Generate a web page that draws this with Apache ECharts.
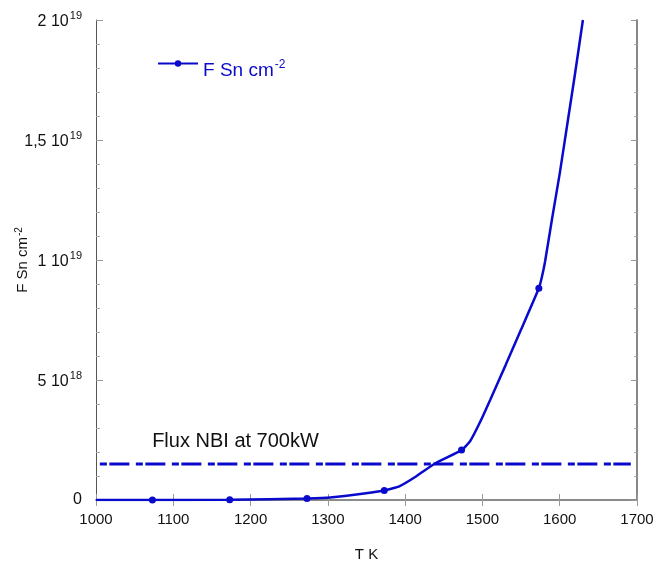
<!DOCTYPE html>
<html>
<head>
<meta charset="utf-8">
<title>F Sn flux vs T</title>
<script src="https://cdn.jsdelivr.net/npm/echarts@6/dist/echarts.min.js"></script>
<style>
  html, body { margin: 0; padding: 0; background: #fff; }
  #chart { width: 654px; height: 561px; }
</style>
</head>
<body>
<div id="chart"></div>
<script>
// temperature (K) and flux (in units of 1e18 cm^-2)
const curveT = [1000, 1073, 1173, 1273, 1303, 1373, 1393, 1415, 1439, 1473, 1484, 1497, 1510, 1530, 1550, 1573, 1577, 1581, 1590, 1600, 1610, 1620, 1630]
const curveF = [0, 0, 0.01, 0.06, 0.1, 0.4, 0.58, 1.0, 1.53, 2.08, 2.45, 3.25, 4.17, 5.62, 7.1, 8.82, 9.3, 9.93, 11.7, 13.6, 15.7, 17.8, 20]
// temperatures that carry a dot
const markT = [1073, 1173, 1273, 1373, 1473, 1573]
// NBI flux level
const nbiT = [1005, 1692]
const nbiF = [1.5, 1.5]
// y tick labels: mantissa and exponent
const yTickMant = ['0', '5', '1', '1,5', '2']
const yTickExp = ['', '18', '19', '19', '19']

const blue = '#0a0acc'
const ink = '#111'
const font = 'Liberation Sans, Arial, sans-serif'

const chart = echarts.init(document.getElementById('chart'))

// base text + superscript
const sup = (size, supSize, color, raise, drop) => ({
  b: { fontSize: size, fontFamily: font, color: color, verticalAlign: 'bottom', padding: [drop || 0, 0, 0, 0] },
  s: { fontSize: supSize, fontFamily: font, color: color, verticalAlign: 'bottom', padding: [0, 0, raise, 1] }
})

chart.setOption({
  animation: false,
  grid: { left: 96, right: 17, top: 20, bottom: 61, outerBoundsMode: 'none', containLabel: false },
  legend: {
    left: 157,
    top: 59,
    padding: 0,
    itemWidth: 40,
    itemHeight: 8,
    data: ['flux'],
    formatter: () => '{b|F Sn cm}{s|-2}',
    textStyle: { rich: sup(19, 12, blue, 9, 14) }
  },
  xAxis: [{
    type: 'value',
    min: 1000,
    max: 1700,
    interval: 100,
    name: 'T K',
    nameLocation: 'middle',
    nameGap: 47,
    nameTextStyle: { fontSize: 15, fontFamily: font, color: ink },
    axisLine: { lineStyle: { color: '#777', width: 1.5 } },
    axisTick: { inside: true, length: 6, lineStyle: { color: '#999' } },
    axisLabel: { margin: 12, fontSize: 15, fontFamily: font, color: ink, formatter: (v) => String(v) },
    splitLine: { show: false }
  }, {
    type: 'value',
    position: 'top',
    min: 1000,
    max: 1700,
    interval: 100,
    axisLine: { show: true, lineStyle: { color: '#888', width: 1.5 } },
    axisTick: { inside: true, length: 6, lineStyle: { color: '#999' } },
    axisLabel: { show: false },
    splitLine: { show: false }
  }],
  yAxis: [{
    type: 'value',
    min: 0,
    max: 20,
    interval: 5,
    name: '{b|F Sn cm}{s|-2}',
    nameLocation: 'middle',
    nameRotate: 90,
    nameGap: 66,
    nameMoveOverlap: false,
    nameTextStyle: { rich: sup(15, 10, ink, 6) },
    axisLine: { show: true, lineStyle: { color: '#555', width: 1 } },
    axisTick: { inside: true, length: 7, lineStyle: { color: '#999' } },
    minorTick: { show: true, splitNumber: 5, length: 4, lineStyle: { color: '#aaa' } },
    axisLabel: {
      margin: 14,
      formatter: (v) => {
        const i = Math.round(v / 5)
        const m = yTickMant[i]
        const e = yTickExp[i]
        return e ? '{b|' + m + ' 10}{s|' + e + '}' : '{b|' + m + '}'
      },
      rich: sup(16, 11, ink, 8)
    },
    splitLine: { show: false }
  }, {
    type: 'value',
    position: 'right',
    min: 0,
    max: 20,
    interval: 5,
    axisLine: { show: true, lineStyle: { color: '#888', width: 2 } },
    axisTick: { inside: true, length: 6, lineStyle: { color: '#999' } },
    minorTick: { show: true, splitNumber: 5, length: 3, lineStyle: { color: '#aaa' } },
    axisLabel: { show: false },
    splitLine: { show: false }
  }],
  series: [{
    name: 'flux',
    type: 'line',
    smooth: 0.15,
    symbol: 'circle',
    symbolSize: 7,
    showAllSymbol: true,
    lineStyle: { color: blue, width: 2.5 },
    itemStyle: { color: blue },
    data: curveT.map((t, i) => ({
      value: [t, curveF[i]],
      symbol: markT.includes(t) ? 'circle' : 'none'
    })),
    z: 3
  }, {
    name: 'nbi',
    type: 'line',
    symbol: 'none',
    lineStyle: { color: blue, width: 3, type: [7, 2.5, 20, 6.5] },
    data: nbiT.map((t, i) => [t, nbiF[i]]),
    markPoint: {
      symbol: 'rect',
      symbolSize: 1,
      itemStyle: { color: 'transparent' },
      label: {
        show: true,
        formatter: 'Flux NBI at 700kW',
        position: 'right',
        distance: 0,
        fontSize: 20,
        fontFamily: font,
        color: ink
      },
      data: [{ coord: [1072, 2.43] }]
    },
    z: 2
  }]
})
</script>
</body>
</html>
